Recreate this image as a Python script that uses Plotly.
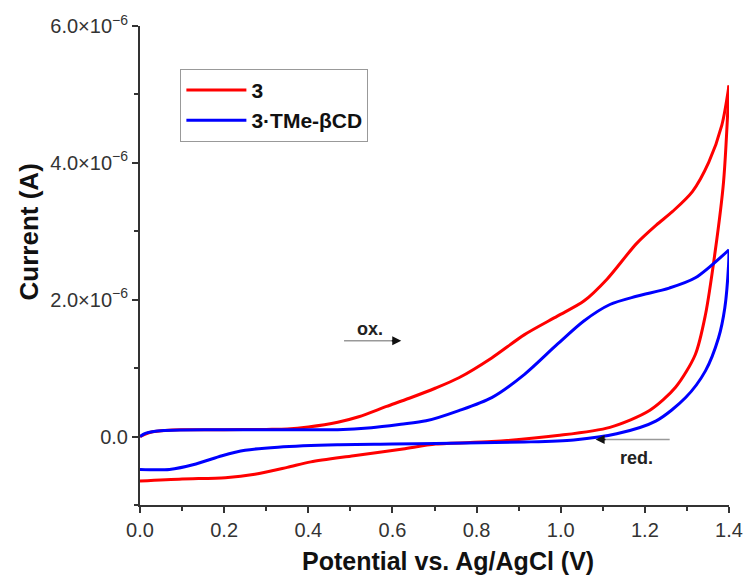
import plotly.graph_objects as go

# ---- data (current in units of 1e-6 A) ----
red_fwd_v = [0.0, 0.01, 0.03, 0.06, 0.1, 0.2, 0.3, 0.35, 0.4, 0.47, 0.52, 0.586, 0.64, 0.703,
             0.758, 0.836, 0.914, 0.992, 1.055, 1.11, 1.18, 1.227, 1.266, 1.313, 1.352, 1.383, 1.40]
red_fwd_i = [0.0, 0.03, 0.07, 0.09, 0.10, 0.10, 0.105, 0.11, 0.14, 0.21, 0.29, 0.44, 0.56, 0.71,
             0.86, 1.15, 1.49, 1.76, 1.98, 2.30, 2.82, 3.09, 3.29, 3.58, 4.01, 4.55, 5.13]
red_rev_v = [1.40, 1.387, 1.367, 1.344, 1.32, 1.273, 1.211, 1.117, 0.992, 0.836, 0.703,
             0.625, 0.508, 0.406, 0.35, 0.273, 0.203, 0.1, 0.0]
red_rev_i = [5.13, 3.72, 2.70, 1.78, 1.20, 0.72, 0.38, 0.135, 0.015, -0.073, -0.11,
             -0.18, -0.28, -0.37, -0.45, -0.55, -0.60, -0.62, -0.65]

blue_fwd_v = [0.0, 0.01, 0.02, 0.05, 0.1, 0.2, 0.3, 0.4, 0.47, 0.55, 0.62, 0.68, 0.758, 0.836,
              0.914, 0.992, 1.055, 1.117, 1.18, 1.258, 1.32, 1.40]
blue_fwd_i = [0.0, 0.04, 0.06, 0.085, 0.095, 0.10, 0.10, 0.10, 0.10, 0.13, 0.18, 0.23, 0.38, 0.57,
              0.91, 1.35, 1.69, 1.93, 2.05, 2.17, 2.32, 2.73]
blue_rev_v = [1.40, 1.399, 1.39, 1.375, 1.344, 1.297, 1.227, 1.133, 1.031, 0.914, 0.703,
              0.6, 0.469, 0.328, 0.25, 0.195, 0.133, 0.07, 0.0]
blue_rev_i = [2.73, 2.51, 1.88, 1.44, 0.96, 0.57, 0.23, 0.04, -0.05, -0.08, -0.10,
              -0.11, -0.12, -0.155, -0.20, -0.28, -0.40, -0.48, -0.48]

series_names = ["3", "3·TMe-βCD"]
y_tickvals = [0, 2e-6, 4e-6, 6e-6]
y_ticktext = ["0.0", "2.0×10<sup>−6</sup>", "4.0×10<sup>−6</sup>", "6.0×10<sup>−6</sup>"]
x_tickvals = [0.0, 0.2, 0.4, 0.6, 0.8, 1.0, 1.2, 1.4]
x_ticktext = ["0.0", "0.2", "0.4", "0.6", "0.8", "1.0", "1.2", "1.4"]

RED = "#ff0000"
BLUE = "#0000ff"
FONT = "Liberation Sans, Arial, sans-serif"


def scale(vals):
    return [v * 1e-6 for v in vals]


fig = go.Figure()
for name, color, fv, fi, rv, ri in [
    (series_names[0], RED, red_fwd_v, red_fwd_i, red_rev_v, red_rev_i),
    (series_names[1], BLUE, blue_fwd_v, blue_fwd_i, blue_rev_v, blue_rev_i),
]:
    fig.add_trace(go.Scatter(x=fv, y=scale(fi), mode="lines", name=name, legendgroup=name,
                             line=dict(color=color, width=3, shape="spline", smoothing=0.8)))
    fig.add_trace(go.Scatter(x=rv, y=scale(ri), mode="lines", name=name, legendgroup=name,
                             showlegend=False,
                             line=dict(color=color, width=3, shape="spline", smoothing=0.8)))

axis_common = dict(showline=True, linecolor="#333333", linewidth=2, ticks="outside",
                   ticklen=6, tickwidth=2, tickcolor="#333333", showgrid=False, zeroline=False,
                   tickfont=dict(family=FONT, size=20, color="#333333"), mirror=False)

fig.update_xaxes(range=[0, 1.4], tickvals=x_tickvals, ticktext=x_ticktext,
                 minor=dict(ticks="outside", ticklen=4, tickwidth=2, tickcolor="#333333", dtick=0.1),
                 **axis_common)
fig.update_yaxes(range=[-1e-6, 6e-6], tickvals=y_tickvals, ticktext=y_ticktext,
                 minor=dict(ticks="outside", ticklen=4, tickwidth=2, tickcolor="#333333",
                            tickvals=[-1e-6, 1e-6, 3e-6, 5e-6]),
                 **axis_common)

annotations = [
    dict(text="<b>Potential vs. Ag/AgCl (V)</b>", xref="paper", yref="paper",
         x=(453 - 140) / 598, y=-(561 - 505) / 482, showarrow=False,
         font=dict(family=FONT, size=25, color="#111111"), xanchor="center", yanchor="middle"),
    dict(text="<b>Current (A)</b>", xref="paper", yref="paper", textangle=-90,
         x=-(140 - 27) / 598, y=(505 - 230) / 482, showarrow=False,
         font=dict(family=FONT, size=26, color="#111111"), xanchor="center", yanchor="middle"),
    dict(text="<b>ox.</b>", x=0.546, y=1.57e-6, showarrow=False,
         font=dict(family=FONT, size=18, color="#222222")),
    dict(text="<b>red.</b>", x=1.179, y=-0.31e-6, showarrow=False,
         font=dict(family=FONT, size=18, color="#222222")),
    dict(text="", x=0.621, y=1.40e-6, ax=0.595, ay=1.40e-6, axref="x", ayref="y",
         showarrow=True, arrowhead=2, arrowsize=1.2, arrowwidth=1.5, arrowcolor="#111111"),
    dict(text="", x=1.083, y=-0.044e-6, ax=1.11, ay=-0.044e-6, axref="x", ayref="y",
         showarrow=True, arrowhead=2, arrowsize=1.2, arrowwidth=1.5, arrowcolor="#111111"),
]

shapes = [
    dict(type="line", x0=0.485, x1=0.61, y0=1.40e-6, y1=1.40e-6, xref="x", yref="y",
         line=dict(color="#999999", width=1.5)),
    dict(type="line", x0=1.095, x1=1.259, y0=-0.044e-6, y1=-0.044e-6, xref="x", yref="y",
         line=dict(color="#999999", width=1.5)),
]

fig.update_layout(
    width=755, height=578,
    margin=dict(l=140, r=17, t=23, b=73),
    paper_bgcolor="white", plot_bgcolor="white",
    font=dict(family=FONT, color="#222222"),
    showlegend=True,
    legend=dict(x=(181 - 140) / 598, y=(505 - 66) / 482, xanchor="left", yanchor="top",
                bordercolor="#999999", borderwidth=1, bgcolor="white",
                font=dict(family=FONT, size=21, color="#111111", weight="bold"),
                itemwidth=60, tracegroupgap=0),
    annotations=annotations,
    shapes=shapes,
)

fig.write_html("out.html")
